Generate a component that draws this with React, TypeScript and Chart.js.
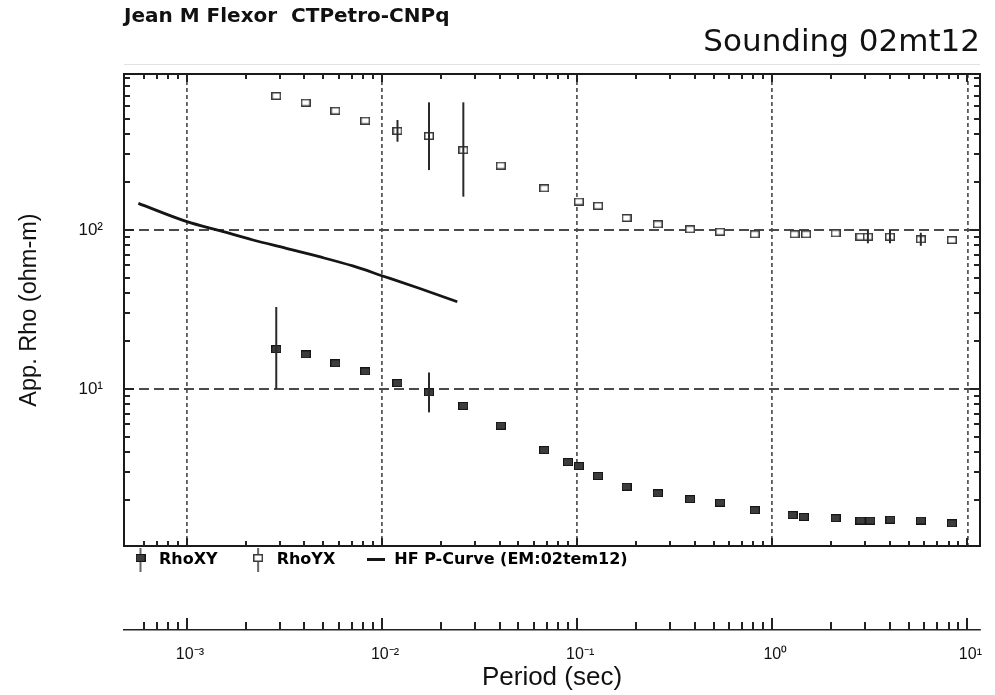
import React, { useEffect, useRef } from 'react';
import { Chart, registerables } from 'chart.js';

Chart.register(...registerables);

// ---- Data ----
const periodsXY = [0.00287, 0.00406, 0.00577, 0.0082, 0.012, 0.0174, 0.0261, 0.0406, 0.0678, 0.0897, 0.102, 0.128, 0.179, 0.259, 0.379, 0.54, 0.813, 1.27, 1.45, 2.11, 2.83, 3.18, 4.03, 5.77, 8.32];
const rhoXY = [17.8, 16.5, 14.5, 12.9, 10.9, 9.53, 7.82, 5.88, 4.13, 3.47, 3.28, 2.84, 2.43, 2.21, 2.03, 1.93, 1.73, 1.61, 1.57, 1.54, 1.49, 1.49, 1.51, 1.49, 1.43];
const errIdxXY = [0, 5];
const errLowXY = [10, 7.13];
const errHighXY = [32.8, 12.7];

const periodsYX = [0.00287, 0.00406, 0.00577, 0.0082, 0.012, 0.0174, 0.0261, 0.0406, 0.0678, 0.102, 0.128, 0.179, 0.259, 0.379, 0.54, 0.813, 1.3, 1.49, 2.11, 2.83, 3.09, 4.01, 5.77, 8.32];
const rhoYX = [696, 632, 562, 487, 420, 390, 318, 254, 183, 151, 142, 119, 108.6, 101, 97.5, 94, 94, 94, 95.3, 90.7, 90.7, 90.7, 87.4, 86.5];
const errIdxYX = [4, 5, 6, 20, 21, 22];
const errLowYX = [359, 238, 162, 82.5, 82.5, 79.5];
const errHighYX = [492, 635, 635, 99.8, 99.8, 96.1];

const periodsHF = [0.000564, 0.001, 0.001475, 0.00218, 0.00323, 0.00477, 0.00708, 0.01007, 0.01549, 0.0243];
const rhoHF = [147, 112.8, 99, 86.5, 76.7, 67.9, 59.4, 51.4, 43.0, 35.4];

const seriesLabels = ['RhoXY', 'RhoYX', 'HF P-Curve (EM:02tem12)'];
const titleText = 'Jean M Flexor  CTPetro-CNPq';
const subtitleText = 'Sounding 02mt12';
const xTitle = 'Period (sec)';
const yTitle = 'App. Rho (ohm-m)';

const xMin = 0.000476;
const xMax = 11.6;
const yMin = 1.03;
const yMax = 957;

// ---- helpers ----
const SUP: Record<string, string> = { '-': '\u207B', '0': '\u2070', '1': '\u00B9', '2': '\u00B2', '3': '\u00B3', '4': '\u2074', '5': '\u2075', '6': '\u2076', '7': '\u2077', '8': '\u2078', '9': '\u2079' };

function niceMantissa(v: number): number {
  if (!(v > 0)) return 0;
  const e = Math.floor(Math.log10(v) + 1e-9);
  const m = v / Math.pow(10, e);
  const r = Math.round(m);
  return Math.abs(m - r) < 1e-6 && r >= 1 && r <= 9 ? r : 0;
}
const isDecade = (v: number) => niceMantissa(v) === 1;
function decadeLabel(v: number): string {
  if (!isDecade(v)) return '';
  const n = String(Math.round(Math.log10(v)));
  return '10' + n.split('').map((c) => SUP[c] || c).join('');
}

function makeImg(w: number, h: number, draw: (c: CanvasRenderingContext2D) => void) {
  const c = document.createElement('canvas');
  c.width = w;
  c.height = h;
  const g = c.getContext('2d') as CanvasRenderingContext2D;
  draw(g);
  return c;
}

const AXIS_FONT = "'Liberation Sans', Arial, sans-serif";
const TITLE_FONT = "'DejaVu Sans', sans-serif";

export default function App() {
  const ref = useRef<HTMLCanvasElement | null>(null);

  useEffect(() => {
    const canvas = ref.current;
    if (!canvas) return;

    const drawFilled = (g: CanvasRenderingContext2D, x: number, y: number) => {
      g.fillStyle = '#3c3c3c';
      g.fillRect(x, y, 10, 8);
      g.strokeStyle = '#151515';
      g.lineWidth = 1;
      g.strokeRect(x + 0.5, y + 0.5, 9, 7);
    };
    const drawOpen = (g: CanvasRenderingContext2D, x: number, y: number) => {
      g.fillStyle = '#ffffff';
      g.fillRect(x, y, 10, 8);
      g.strokeStyle = '#3a3a3a';
      g.lineWidth = 1.5;
      g.strokeRect(x + 0.75, y + 0.75, 8.5, 6.5);
    };

    const imgXY = makeImg(10, 8, (g) => drawFilled(g, 0, 0));
    const imgYX = makeImg(10, 8, (g) => drawOpen(g, 0, 0));
    const legXY = makeImg(10, 24, (g) => {
      g.strokeStyle = '#333';
      g.lineWidth = 1.5;
      g.beginPath(); g.moveTo(5, 0); g.lineTo(5, 24); g.stroke();
      drawFilled(g, 0, 6);
    });
    const legYX = makeImg(10, 24, (g) => {
      g.strokeStyle = '#333';
      g.lineWidth = 1.5;
      g.beginPath(); g.moveTo(5, 0); g.lineTo(5, 24); g.stroke();
      drawOpen(g, 0, 6);
    });
    const legHF = makeImg(18, 4, (g) => {
      g.fillStyle = '#151515';
      g.fillRect(0, 0, 18, 3);
    });

    const errorSets = [
      { periods: periodsXY, idx: errIdxXY, low: errLowXY, high: errHighXY },
      { periods: periodsYX, idx: errIdxYX, low: errLowYX, high: errHighYX },
    ];

    const errorBarPlugin = {
      id: 'errorBars',
      afterDatasetsDraw(chart: any) {
        const { ctx, scales } = chart;
        const x = scales.x;
        const y = scales.y;
        ctx.save();
        ctx.strokeStyle = '#2a2a2a';
        ctx.lineWidth = 2;
        errorSets.forEach((s) => {
          s.idx.forEach((k, j) => {
            const px = x.getPixelForValue(s.periods[k]);
            ctx.beginPath();
            ctx.moveTo(px, y.getPixelForValue(s.low[j]));
            ctx.lineTo(px, y.getPixelForValue(s.high[j]));
            ctx.stroke();
          });
        });
        ctx.restore();
      },
    };

    const framePlugin = {
      id: 'frame',
      afterDraw(chart: any) {
        const { ctx, chartArea: a, scales } = chart;
        const x = scales.x;
        const y = scales.y;
        const ay = Math.round(x.top);
        ctx.save();
        // faint rule above the frame
        ctx.strokeStyle = '#e2e2e2';
        ctx.lineWidth = 1;
        ctx.beginPath(); ctx.moveTo(a.left, a.top - 9.5); ctx.lineTo(a.right, a.top - 9.5); ctx.stroke();
        // frame
        ctx.strokeStyle = '#1a1a1a';
        ctx.lineWidth = 2;
        ctx.strokeRect(a.left, a.top, a.right - a.left, a.bottom - a.top);
        ctx.fillStyle = '#222';
        const xt: any[] = x.ticks || [];
        for (const t of xt) {
          const m = niceMantissa(t.value);
          if (!m) continue;
          const px = x.getPixelForValue(t.value);
          if (!(px >= a.left + 1 && px <= a.right - 1)) continue;
          const len = m === 1 ? 8 : 5;
          const bx = Math.round(px) - 1;
          ctx.fillRect(bx, a.top, 2, len);
          ctx.fillRect(bx, a.bottom - len, 2, len);
          const al = m === 1 ? 12 : 8;
          ctx.fillRect(bx, ay - al, 2, al);
        }
        const yt: any[] = y.ticks || [];
        for (const t of yt) {
          const m = niceMantissa(t.value);
          if (!m) continue;
          const py = y.getPixelForValue(t.value);
          if (!(py >= a.top + 1 && py <= a.bottom - 1)) continue;
          const len = m === 1 ? 10 : 6;
          const by = Math.round(py) - 1;
          ctx.fillRect(a.left, by, len, 2);
          ctx.fillRect(a.right - len, by, len, 2);
        }
        ctx.restore();
      },
    };

    const chart = new Chart(canvas, {
      type: 'scatter',
      data: {
        datasets: [
          { label: seriesLabels[0], data: periodsXY.map((p, i) => ({ x: p, y: rhoXY[i] })), xAxisID: 'x', yAxisID: 'y', pointStyle: imgXY, pointRadius: 5, backgroundColor: '#3c3c3c', borderColor: '#151515' },
          { label: seriesLabels[1], data: periodsYX.map((p, i) => ({ x: p, y: rhoYX[i] })), xAxisID: 'x', yAxisID: 'y', pointStyle: imgYX, pointRadius: 5, backgroundColor: '#ffffff', borderColor: '#3a3a3a' },
          { label: seriesLabels[2], data: periodsHF.map((p, i) => ({ x: p, y: rhoHF[i] })), xAxisID: 'x', yAxisID: 'y', showLine: true, pointRadius: 0, borderColor: '#151515', backgroundColor: '#151515', borderWidth: 2.8, cubicInterpolationMode: 'monotone', fill: false },
        ],
      } as any,
      options: {
        responsive: false,
        animation: false,
        devicePixelRatio: 1,
        layout: { padding: { left: 0, right: 12, top: 0, bottom: 0 } },
        plugins: {
          tooltip: { enabled: false },
          title: { display: true, text: titleText, align: 'start', fullSize: false, color: '#111', font: { family: TITLE_FONT, size: 20, weight: 'bold', lineHeight: 1 }, padding: { top: 7, bottom: 0 } },
          subtitle: { display: true, text: subtitleText, align: 'end', fullSize: false, color: '#111', font: { family: TITLE_FONT, size: 31, weight: 'normal', lineHeight: 1 }, padding: { top: 0, bottom: 16 } },
          legend: {
            display: true, position: 'bottom', align: 'start', fullSize: false,
            labels: {
              usePointStyle: true, pointStyleWidth: 21, boxHeight: 16, padding: 6, color: '#222',
              font: { family: TITLE_FONT, size: 16, weight: 'bold' },
              generateLabels: () => [
                { text: seriesLabels[0] + '\u2002\u2002\u2002', pointStyle: legXY, fillStyle: '#3c3c3c', strokeStyle: '#151515', lineWidth: 0, hidden: false, datasetIndex: 0 },
                { text: seriesLabels[1] + '\u2002\u2002\u2002', pointStyle: legYX, fillStyle: '#fff', strokeStyle: '#333', lineWidth: 0, hidden: false, datasetIndex: 1 },
                { text: seriesLabels[2], pointStyle: legHF, fillStyle: '#151515', strokeStyle: '#151515', lineWidth: 0, hidden: false, datasetIndex: 2 },
              ],
            },
          },
        },
        scales: {
          x: {
            type: 'logarithmic', position: 'bottom', weight: 2000, min: xMin, max: xMax,
            border: { display: true, color: '#222', width: 1.5, dash: [4, 3] },
            grid: { display: true, drawTicks: false, lineWidth: 1.8, color: (c: any) => (c.tick && isDecade(c.tick.value) ? '#5a5a5a' : 'rgba(0,0,0,0)') },
            ticks: { autoSkip: false, maxRotation: 0, minRotation: 0, padding: 15, labelOffset: 3, color: '#111', font: { family: AXIS_FONT, size: 16 }, callback: (v: any) => decadeLabel(Number(v)) },
            title: { display: true, text: xTitle, color: '#111', font: { family: AXIS_FONT, size: 26, lineHeight: 1.2 }, padding: { top: 0, bottom: 2 } },
            afterFit: (s: any) => { s.height = 65; },
          },
          xs: {
            type: 'linear', position: 'bottom', weight: 1500, display: true,
            grid: { display: false, drawTicks: false }, border: { display: false }, ticks: { display: false },
            afterFit: (s: any) => { s.height = 52; },
          },
          y: {
            type: 'logarithmic', position: 'left', min: yMin, max: yMax,
            border: { display: false, dash: [10, 5] },
            grid: { display: true, drawTicks: false, lineWidth: 2, color: (c: any) => (c.tick && isDecade(c.tick.value) ? '#4a4a4a' : 'rgba(0,0,0,0)') },
            ticks: { autoSkip: false, padding: 21, color: '#111', font: { family: AXIS_FONT, size: 17 }, callback: (v: any) => decadeLabel(Number(v)) },
            title: { display: true, text: yTitle, color: '#111', font: { family: AXIS_FONT, size: 23.5, lineHeight: 1.2 }, padding: { top: 15, bottom: 0 } },
            afterFit: (s: any) => { s.width = 124; },
          },
        },
      } as any,
      plugins: [errorBarPlugin, framePlugin],
    });

    return () => chart.destroy();
  }, []);

  return (
    <div style={{ position: 'absolute', left: 0, top: 0, width: 995, height: 695, background: '#fff' }}>
      <canvas ref={ref} width={995} height={695} style={{ display: 'block', width: 995, height: 695 }} />
    </div>
  );
}
